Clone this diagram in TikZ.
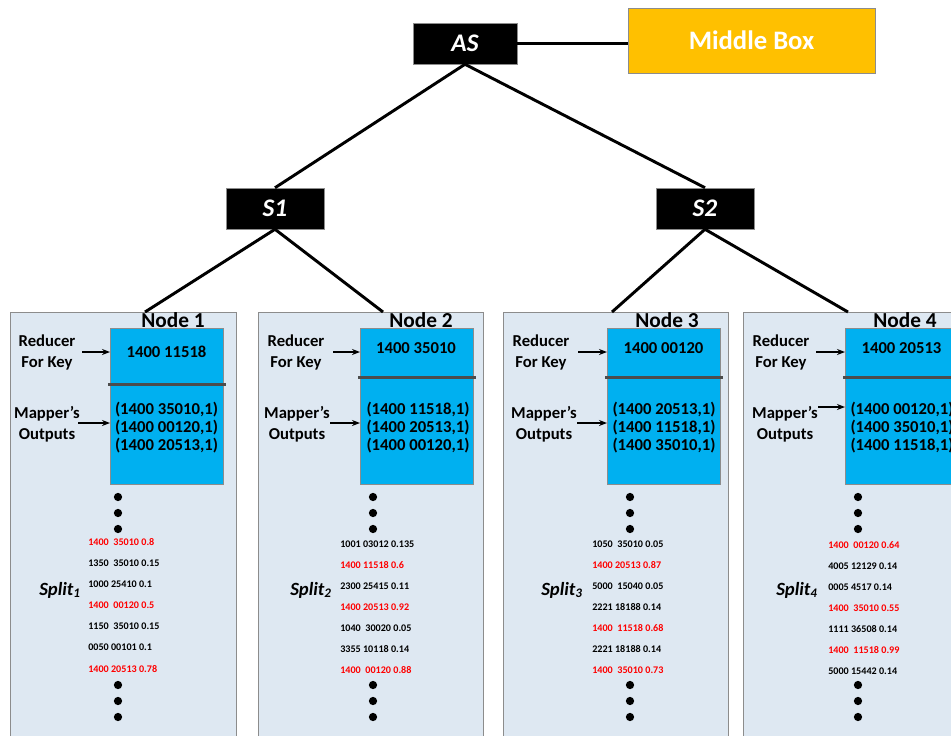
\documentclass[tikz,border=0pt]{standalone}
\usepackage{fontspec}
\setmainfont{Carlito}
\usetikzlibrary{arrows.meta}
\definecolor{panelfill}{HTML}{DEE8F2}
\definecolor{panelline}{HTML}{8C8C8C}
\definecolor{boxblue}{HTML}{00B0F0}
\definecolor{midbox}{HTML}{FFC000}
\definecolor{redtxt}{HTML}{FF0000}
\begin{document}
\begin{tikzpicture}[x=0.75pt,y=-0.75pt,
  blackbox/.style={draw=panelline, fill=black, text=white, font=\bfseries\itshape\fontsize{19}{22}\selectfont, minimum width=73.5pt, minimum height=30.75pt, inner sep=0pt},
  midboxstyle/.style={draw=panelline, fill=midbox, text=white, font=\bfseries\fontsize{20}{24}\selectfont, minimum width=185.25pt, minimum height=48.75pt, inner sep=0pt},
  panel/.style={draw=panelline, fill=panelfill, line width=0.8pt, anchor=north west, minimum height=336pt, inner sep=0pt},
  bluebox/.style={fill=boxblue, draw=panelline, line width=0.4pt, minimum width=84.75pt, anchor=north west, inner sep=0pt},
  divider/.style={line width=2.2pt, draw=black!70},
  conn/.style={line width=2.2pt, draw=black},
  arr/.style={line width=1pt, -{Stealth[length=6pt,width=4.5pt]}},
  lbl/.style={font=\bfseries\fontsize{12.5}{15.75}\selectfont, align=center, inner sep=0pt},
  boxtxt/.style={font=\bfseries\fontsize{12.5}{13.5}\selectfont, align=center, inner sep=0pt},
  nodetitle/.style={font=\bfseries\fontsize{16}{18}\selectfont, inner sep=0pt},
  splitline/.style={font=\bfseries\fontsize{7.6}{8.5}\selectfont, anchor=west, inner sep=0pt},
  splitlbl/.style={font=\bfseries\itshape\fontsize{14}{16}\selectfont, inner sep=0pt},
  dotstyle/.style={circle, fill=black, inner sep=0pt, minimum size=6.2pt}
]
\useasboundingbox (0,0) rectangle (951,736);
\clip (0,0) rectangle (951,736);

% top tree
\node[blackbox, minimum width=78pt] (AS) at (465,43.5) {AS};
\node[midboxstyle] (MB) at (751.5,40.5) {Middle Box};
\node[blackbox] (S1) at (275,208.5) {S1};
\node[blackbox] (S2) at (705,208.5) {S2};
\draw[conn] (AS.east) -- (AS.east -| MB.west);
\draw[conn] (AS.south) -- (S1.north);
\draw[conn] (AS.south) -- (S2.north);

% panels
\node[panel, minimum width=169.5pt] (P1) at (10,312) {};
\node[panel, minimum width=168.75pt] (P2) at (258,312) {};
\node[panel, minimum width=168.75pt] (P3) at (503,312) {};
\node[panel, minimum width=169.5pt] (P4) at (743,312) {};

\coordinate (t1) at (145,312);
\coordinate (t2) at (383,312);
\coordinate (t3) at (612,312);
\coordinate (t4) at (848,312);
\draw[conn] (S1.south) -- (t1);
\draw[conn] (S1.south) -- (t2);
\draw[conn] (S2.south) -- (t3);
\draw[conn] (S2.south) -- (t4);

% node titles
\node[nodetitle] (N1) at (173,320) {Node 1};
\node[nodetitle] (N2) at (421,320) {Node 2};
\node[nodetitle] (N3) at (667,320) {Node 3};
\node[nodetitle] (N4) at (905,320) {Node 4};

% blue boxes (reducer part + mapper part)
\node[bluebox, minimum height=42pt] (R1) at (110,328) {};
\node[bluebox, minimum height=75pt] (M1) at (110,384) {};
\node[bluebox, minimum height=36.75pt] (R2) at (360,328) {};
\node[bluebox, minimum height=80.25pt] (M2) at (360,377) {};
\node[bluebox, minimum height=36.75pt] (R3) at (607,328) {};
\node[bluebox, minimum height=80.25pt] (M3) at (607,377) {};
\node[bluebox, minimum height=36.75pt] (R4) at (845,328) {};
\node[bluebox, minimum height=80.25pt] (M4) at (845,377) {};
\foreach \k in {1,2,3,4}{
  \draw[divider] ([xshift=-1.5pt]R\k.south west) -- ([xshift=1.5pt]R\k.south east);
}

% box texts
\node[boxtxt] (k1) at (166.5,352) {1400 11518};
\node[boxtxt] (k2) at (416,348) {1400 35010};
\node[boxtxt] (k3) at (663.5,348) {1400 00120};
\node[boxtxt] (k4) at (901.5,348) {1400 20513};
\node[boxtxt] (o1) at (166.5,428) {(1400 35010,1)\\(1400 00120,1)\\(1400 20513,1)};
\node[boxtxt] (o2) at (418,428) {(1400 11518,1)\\(1400 20513,1)\\(1400 00120,1)};
\node[boxtxt] (o3) at (664,428) {(1400 20513,1)\\(1400 11518,1)\\(1400 35010,1)};
\node[boxtxt] (o4) at (902,428) {(1400 00120,1)\\(1400 35010,1)\\(1400 11518,1)};

% side labels and arrows
\node[lbl] (rl1) at (47,352.5) {Reducer\\For Key};
\node[lbl] (ml1) at (47,424) {Mapper’s\\Outputs};
\node[lbl] (rl2) at (296,352.5) {Reducer\\For Key};
\node[lbl] (ml2) at (297,424) {Mapper’s\\Outputs};
\node[lbl] (rl3) at (541,352.5) {Reducer\\For Key};
\node[lbl] (ml3) at (544,424) {Mapper’s\\Outputs};
\node[lbl] (rl4) at (781,352.5) {Reducer\\For Key};
\node[lbl] (ml4) at (785,424) {Mapper’s\\Outputs};

\coordinate (a1r) at (82,352);  \draw[arr] (a1r) -- (a1r -| R1.west);
\coordinate (a1m) at (78,423);  \draw[arr] (a1m) -- (a1m -| M1.west);
\coordinate (a2r) at (333,352); \draw[arr] (a2r) -- (a2r -| R2.west);
\coordinate (a2m) at (330,423); \draw[arr] (a2m) -- (a2m -| M2.west);
\coordinate (a3r) at (578,352); \draw[arr] (a3r) -- (a3r -| R3.west);
\coordinate (a3m) at (577,423); \draw[arr] (a3m) -- (a3m -| M3.west);
\coordinate (a4r) at (816,352); \draw[arr] (a4r) -- (a4r -| R4.west);
\coordinate (a4m) at (818,407); \draw[arr] (a4m) -- (a4m -| M4.west);

% dots
\foreach \k/\dx in {1/118,2/373,3/630,4/858}{
  \foreach \dy [count=\j] in {497,513,529,685,701,717}{
    \node[dotstyle] (dot\k-\j) at (\dx,\dy) {};
  }
}

% split labels
\node[splitlbl] (sp1) at (60,590) {Split\textsubscript{1}};
\node[splitlbl] (sp2) at (311,590) {Split\textsubscript{2}};
\node[splitlbl] (sp3) at (562,590) {Split\textsubscript{3}};
\node[splitlbl] (sp4) at (797,590) {Split\textsubscript{4}};

% split lines
\foreach \t/\c [count=\i] in {1400\ \ 35010 0.8/redtxt, 1350\ \ 35010 0.15/black, 1000 25410 0.1/black, 1400\ \ 00120 0.5/redtxt, 1150\ \ 35010 0.15/black, 0050 00101 0.1/black, 1400 20513 0.78/redtxt}{
  \node[splitline, text=\c] (sa\i) at (88,{542+21.1*(\i-1)}) {\t};
}
\foreach \t/\c [count=\i] in {1001 03012 0.135/black, 1400 11518 0.6/redtxt, 2300 25415 0.11/black, 1400 20513 0.92/redtxt, 1040\ \ 30020 0.05/black, 3355 10118 0.14/black, 1400\ \ 00120 0.88/redtxt}{
  \node[splitline, text=\c] (sb\i) at (340,{544+21*(\i-1)}) {\t};
}
\foreach \t/\c [count=\i] in {1050\ \ 35010 0.05/black, 1400 20513 0.87/redtxt, 5000\ \ 15040 0.05/black, 2221 18188 0.14/black, 1400\ \ 11518 0.68/redtxt, 2221 18188 0.14/black, 1400\ \ 35010 0.73/redtxt}{
  \node[splitline, text=\c] (sc\i) at (592,{544+21*(\i-1)}) {\t};
}
\foreach \t/\c [count=\i] in {1400\ \ 00120 0.64/redtxt, 4005 12129 0.14/black, 0005 4517 0.14/black, 1400\ \ 35010 0.55/redtxt, 1111 36508 0.14/black, 1400\ \ 11518 0.99/redtxt, 5000 15442 0.14/black}{
  \node[splitline, text=\c] (sd\i) at (828,{545+21*(\i-1)}) {\t};
}
\end{tikzpicture}
\end{document}
